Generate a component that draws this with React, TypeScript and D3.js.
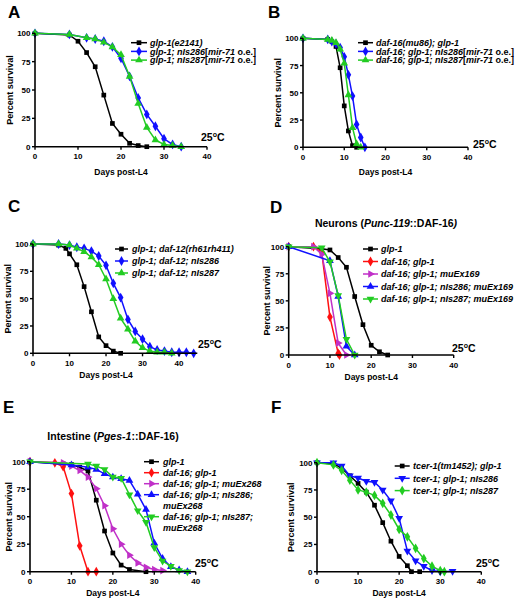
import React from "react";
import * as d3 from "d3";

type Pt = [number, number];

// ---------- Data (day, percent survival) ----------
// Panel A
const A_glp1: Pt[] = [[0,100],[8,98.5],[10,93],[12,83],[14,70.5],[16,45.5],[18,20.5],[20,11],[22,3],[24,1],[26,0]];
const A_nIs286: Pt[] = [[0,100],[8,99],[12,96],[14,95],[16,93],[18,88],[20,78],[22,62],[24,43],[26,28.5],[28,18],[30,7],[32,2],[34,0]];
const A_nIs287: Pt[] = [[0,100],[8,99],[12,96],[14,95],[16,92],[18,88],[20,81],[22,62],[24,38],[26,17],[28,6],[30,2],[32,1],[34,0]];
// Panel B
const B_daf16: Pt[] = [[0,100],[6,99],[7,97],[8,92.5],[9,73],[10,38],[11,15],[12,1.5],[13,0]];
const B_nIs286: Pt[] = [[0,100],[6,99],[7,97],[8,95],[9,91.5],[10,83],[11,66.5],[12,47],[13,21],[14,9],[15,0]];
const B_nIs287: Pt[] = [[0,100],[6,99],[7,98],[8,96],[9,90],[10,77],[11,48],[12,18],[13,3],[14,0]];
// Panel C
const C_daf12: Pt[] = [[0,100],[7,99],[9,96],[10,91],[12,81],[14,61],[16,38],[18,15],[20,7],[22,2],[24,0]];
const C_nIs286: Pt[] = [[0,100],[7,100],[10,99],[12,97],[14,96],[16,93.5],[18,89],[20,80.5],[22,64],[24,51],[26,31],[28,20],[30,13],[32,6],[34,3],[36,2],[38,1],[40,1],[42,1],[44,0]];
const C_nIs287: Pt[] = [[0,100],[7,100],[10,99],[12,96],[14,93],[16,88],[18,81],[20,68],[22,50],[24,32],[26,22],[28,11],[30,5],[32,2],[34,1],[36,1],[38,0]];
// Panel D
const D_glp1: Pt[] = [[0,100],[8,98],[10,97],[12,90],[14,81],[16,54],[18,28],[20,9],[22,3],[24,0]];
const D_daf16: Pt[] = [[0,100],[6,100],[8,95],[10,35],[12,1.5],[12.3,0]];
const D_muEx169: Pt[] = [[0,100],[6,100],[8,93],[10,57],[12,11],[14,0]];
const D_nIs286: Pt[] = [[0,100],[10,87],[12,54],[14,8],[16,0]];
const D_nIs287: Pt[] = [[0,100],[8,99],[10,86],[12,55],[14,14.5],[16,0]];
// Panel E
const E_glp1: Pt[] = [[0,100],[8,98],[10,97.5],[12,95],[14,91.5],[16,65],[18,37],[20,17],[22,6],[24,2],[28,0]];
const E_daf16: Pt[] = [[0,100],[6,99],[8,95.5],[10,71],[12,23.5],[14,0],[16,0]];
const E_muEx268: Pt[] = [[0,100],[8,99],[10,96],[12,92],[14,86],[16,75.5],[18,60],[20,39],[22,25],[24,15],[26,8],[28,4],[30,2],[32,1]];
const E_nIs286: Pt[] = [[0,100],[10,97],[14,95],[16,93],[18,89],[20,86],[22,84.5],[24,83],[26,70.5],[28,56.5],[30,26],[32,12],[34,4.5],[36,1.5],[38,0]];
const E_nIs287: Pt[] = [[0,100],[14,98],[16,96],[18,93],[20,86],[22,85],[24,70],[26,55.5],[28,45],[30,22],[32,9.7],[34,5],[36,1],[38,0]];
// Panel F
const F_tcer1: Pt[] = [[0,100],[4,99],[6,95],[8,88],[10,81],[12,73],[14,61],[16,45],[18,28],[20,14],[22,5.5],[23,0],[25,0]];
const F_nIs286: Pt[] = [[0,100],[4,100],[6,97],[8,88],[10,86],[12,83],[14,82],[16,75],[18,65],[20,49],[22,19],[24,10],[26,5],[28,1],[30,0],[33,0.5]];
const F_nIs287: Pt[] = [[0,100],[4,98],[6,93],[8,84],[10,75],[12,73],[14,70],[16,62.7],[18,52],[20,38.8],[22,32],[24,21.4],[26,12],[28,5],[30,1],[31,0]];

const yTicks = [0, 25, 50, 75, 100];
const xTicks = [0, 10, 20, 30, 40];

// ---------- styling ----------
const FONT = "'Liberation Sans', Arial, Helvetica, sans-serif";
const BLACK = "#000000";
const BLUE = "#1010ff";
const GREEN = "#22cc22";
const RED = "#ff1010";
const MAGENTA = "#c030c8";

type Seg = [string, boolean]; // text, italic
type Shape = "square" | "diamond" | "triUp" | "triDown" | "triRight";
interface Series { color: string; shape: Shape; data: Pt[]; label: Seg[][] }
interface PanelDef {
  letter: string; letterX: number; letterY: number;
  left: number; right: number; top: number; bottom: number; xMax: number;
  series: Series[];
  lgLine: [number, number]; lgText: number; lgTop: number; lgStep: number;
  tempX: number; tempY: number; yTitleX: number; xTitleY: number;
  title?: Seg[]; titleX?: number; titleY?: number;
}

const it = (s: string): Seg => [s, true];
const nm = (s: string): Seg => [s, false];

const panels: PanelDef[] = [
  {
    letter: "A", letterX: 8, letterY: 18,
    left: 35, right: 207, top: 33.3, bottom: 146.7, xMax: 40,
    series: [
      { color: BLACK, shape: "square", data: A_glp1, label: [[it("glp-1(e2141)")]] },
      { color: BLUE, shape: "diamond", data: A_nIs286, label: [[it("glp-1; nIs286"), nm("["), it("mir-71"), nm(" o.e.]")]] },
      { color: GREEN, shape: "triUp", data: A_nIs287, label: [[it("glp-1; nIs287"), nm("["), it("mir-71"), nm(" o.e.]")]] },
    ],
    lgLine: [131, 147], lgText: 150, lgTop: 42.7, lgStep: 8.7,
    tempX: 201, tempY: 141, yTitleX: 9.5, xTitleY: 175,
  },
  {
    letter: "B", letterX: 268, letterY: 18,
    left: 303, right: 468, top: 38.3, bottom: 147.3, xMax: 40,
    series: [
      { color: BLACK, shape: "square", data: B_daf16, label: [[it("daf-16(mu86); glp-1")]] },
      { color: BLUE, shape: "diamond", data: B_nIs286, label: [[it("daf-16; glp-1; nIs286"), nm("["), it("mir-71"), nm(" o.e.]")]] },
      { color: GREEN, shape: "triUp", data: B_nIs287, label: [[it("daf-16; glp-1; nIs287"), nm("["), it("mir-71"), nm(" o.e.]")]] },
    ],
    lgLine: [358, 373], lgText: 376, lgTop: 42.7, lgStep: 8.7,
    tempX: 473, tempY: 148, yTitleX: 278, xTitleY: 175,
  },
  {
    letter: "C", letterX: 8, letterY: 212,
    left: 33, right: 197.3, top: 244, bottom: 353.3, xMax: 45,
    series: [
      { color: BLACK, shape: "square", data: C_daf12, label: [[it("glp-1; daf-12(rh61rh411)")]] },
      { color: BLUE, shape: "diamond", data: C_nIs286, label: [[it("glp-1; daf-12; nIs286")]] },
      { color: GREEN, shape: "triUp", data: C_nIs287, label: [[it("glp-1; daf-12; nIs287")]] },
    ],
    lgLine: [115, 128], lgText: 132, lgTop: 249, lgStep: 12,
    tempX: 198, tempY: 348, yTitleX: 8, xTitleY: 378,
  },
  {
    letter: "D", letterX: 270, letterY: 213,
    left: 288.7, right: 453.7, top: 246.7, bottom: 355, xMax: 40,
    title: [nm("Neurons ("), it("Punc-119"), nm("::DAF-16"), it(")")], titleX: 386, titleY: 227,
    series: [
      { color: BLACK, shape: "square", data: D_glp1, label: [[it("glp-1")]] },
      { color: RED, shape: "diamond", data: D_daf16, label: [[it("daf-16; glp-1")]] },
      { color: MAGENTA, shape: "triRight", data: D_muEx169, label: [[it("daf-16; glp-1; muEx169")]] },
      { color: BLUE, shape: "triUp", data: D_nIs286, label: [[it("daf-16; glp-1; nIs286; muEx169")]] },
      { color: GREEN, shape: "triDown", data: D_nIs287, label: [[it("daf-16; glp-1; nIs287; muEx169")]] },
    ],
    lgLine: [363, 378], lgText: 381, lgTop: 249, lgStep: 12.5,
    tempX: 452, tempY: 352, yTitleX: 266.7, xTitleY: 380,
  },
  {
    letter: "E", letterX: 3, letterY: 413,
    left: 30, right: 195.7, top: 461.7, bottom: 571.7, xMax: 40,
    title: [nm("Intestine ("), it("Pges-1"), nm("::DAF-16)")], titleX: 113, titleY: 440,
    series: [
      { color: BLACK, shape: "square", data: E_glp1, label: [[it("glp-1")]] },
      { color: RED, shape: "diamond", data: E_daf16, label: [[it("daf-16; glp-1")]] },
      { color: MAGENTA, shape: "triRight", data: E_muEx268, label: [[it("daf-16; glp-1; muEx268")]] },
      { color: BLUE, shape: "triUp", data: E_nIs286, label: [[it("daf-16; glp-1; nIs286;")], [it("muEx268")]] },
      { color: GREEN, shape: "triDown", data: E_nIs287, label: [[it("daf-16; glp-1; nIs287;")], [it("muEx268")]] },
    ],
    lgLine: [144, 159], lgText: 163, lgTop: 461.7, lgStep: 11,
    tempX: 195, tempY: 567, yTitleX: 8.5, xTitleY: 596,
  },
  {
    letter: "F", letterX: 271, letterY: 413,
    left: 317, right: 481.3, top: 462.7, bottom: 571.7, xMax: 40,
    series: [
      { color: BLACK, shape: "square", data: F_tcer1, label: [[it("tcer-1(tm1452); glp-1")]] },
      { color: BLUE, shape: "triDown", data: F_nIs286, label: [[it("tcer-1; glp-1; nIs286")]] },
      { color: GREEN, shape: "diamond", data: F_nIs287, label: [[it("tcer-1; glp-1; nIs287")]] },
    ],
    lgLine: [394.7, 409.7], lgText: 413, lgTop: 466, lgStep: 12.3,
    tempX: 476, tempY: 567, yTitleX: 290.5, xTitleY: 596,
  },
];

function markerPath(shape: Shape): { d: string; rot: number } {
  const size = 22;
  switch (shape) {
    case "square": return { d: d3.symbol(d3.symbolSquare, size)() || "", rot: 0 };
    case "diamond": return { d: d3.symbol(d3.symbolDiamond, size + 6)() || "", rot: 0 };
    case "triUp": return { d: d3.symbol(d3.symbolTriangle, size + 4)() || "", rot: 0 };
    case "triDown": return { d: d3.symbol(d3.symbolTriangle, size + 4)() || "", rot: 180 };
    case "triRight": return { d: d3.symbol(d3.symbolTriangle, size + 4)() || "", rot: 90 };
  }
}

function SegText({ segs, x, y, size, anchor }: { segs: Seg[]; x: number; y: number; size: number; anchor?: string }) {
  return (
    <text x={x} y={y} fontSize={size} fontWeight="bold" fontFamily={FONT} textAnchor={anchor || "start"}>
      {segs.map((s, i) => (
        <tspan key={i} fontStyle={s[1] ? "italic" : "normal"}>{s[0]}</tspan>
      ))}
    </text>
  );
}

function Panel({ p }: { p: PanelDef }) {
  const x = d3.scaleLinear().domain([0, p.xMax]).range([p.left, p.right]);
  const y = d3.scaleLinear().domain([0, 100]).range([p.bottom, p.top]);
  const line = d3.line<Pt>().x((d) => x(d[0])).y((d) => y(d[1]));
  const tick = 3;
  let row = 0;
  return (
    <g>
      <text x={p.letterX} y={p.letterY} fontSize={17} fontWeight="bold" fontFamily={FONT}>{p.letter}</text>
      {p.title && <SegText segs={p.title} x={p.titleX!} y={p.titleY!} size={10.5} anchor="middle" />}
      {/* series */}
      {p.series.map((s, i) => {
        const m = markerPath(s.shape);
        return (
          <g key={i}>
            <path d={line(s.data) || ""} fill="none" stroke={s.color} strokeWidth={1.5} />
            {s.data.map((d, j) => (
              <path key={j} d={m.d} fill={s.color}
                transform={`translate(${x(d[0])},${y(d[1])}) rotate(${m.rot})`} />
            ))}
          </g>
        );
      })}
      {/* axes */}
      <line x1={p.left} x2={p.right} y1={p.bottom} y2={p.bottom} stroke="#000" strokeWidth={1.6} />
      <line x1={p.left} x2={p.left} y1={p.top} y2={p.bottom} stroke="#000" strokeWidth={1.6} />
      {xTicks.map((t) => (
        <g key={"x" + t}>
          <line x1={x(t)} x2={x(t)} y1={p.bottom} y2={p.bottom + tick} stroke="#000" strokeWidth={1.4} />
          <text x={x(t)} y={p.bottom + 12.5} fontSize={8} fontWeight="bold" fontFamily={FONT} textAnchor="middle">{t}</text>
        </g>
      ))}
      {yTicks.map((t) => (
        <g key={"y" + t}>
          <line x1={p.left - tick} x2={p.left} y1={y(t)} y2={y(t)} stroke="#000" strokeWidth={1.4} />
          <text x={p.left - 4.5} y={y(t) + 3} fontSize={8} fontWeight="bold" fontFamily={FONT} textAnchor="end">{t}</text>
        </g>
      ))}
      <text transform={`translate(${p.yTitleX + 3},${(p.top + p.bottom) / 2}) rotate(-90)`}
        fontSize={9} fontWeight="bold" fontFamily={FONT} textAnchor="middle">Percent survival</text>
      <text x={x(20)} y={p.xTitleY} fontSize={8.5} fontWeight="bold" fontFamily={FONT} textAnchor="middle">Days post-L4</text>
      <text x={p.tempX} y={p.tempY} fontSize={10.5} fontWeight="bold" fontFamily={FONT}>
        25<tspan fontSize={7} dy={-4}>o</tspan><tspan dy={4}>C</tspan>
      </text>
      {/* legend */}
      {p.series.map((s, i) => {
        const m = markerPath(s.shape);
        const r0 = row;
        row += s.label.length;
        const cy = p.lgTop + r0 * p.lgStep;
        const mx = (p.lgLine[0] + p.lgLine[1]) / 2;
        return (
          <g key={"l" + i}>
            <line x1={p.lgLine[0]} x2={p.lgLine[1]} y1={cy} y2={cy} stroke={s.color} strokeWidth={1.5} />
            <path d={m.d} fill={s.color} transform={`translate(${mx},${cy}) rotate(${m.rot})`} />
            {s.label.map((ln, k) => (
              <SegText key={k} segs={ln} x={p.lgText} y={cy + k * p.lgStep + 3.2} size={9} />
            ))}
          </g>
        );
      })}
    </g>
  );
}

export default function App() {
  return (
    <svg width={517} height={603} style={{ position: "absolute", left: 0, top: 0, background: "#fff" }}>
      <rect width={517} height={603} fill="#fff" />
      {panels.map((p) => <Panel key={p.letter} p={p} />)}
    </svg>
  );
}
